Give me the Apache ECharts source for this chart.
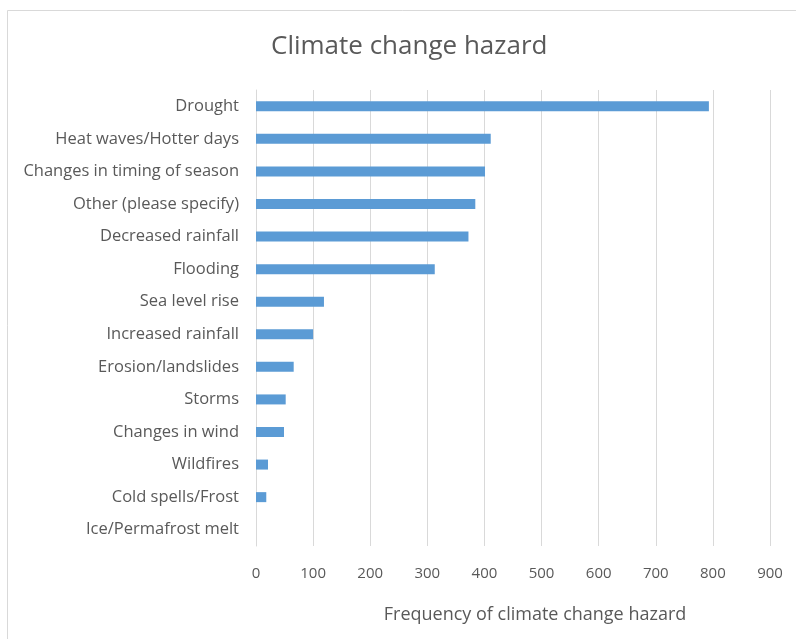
<!DOCTYPE html>
<html>
<head>
<meta charset="utf-8">
<script src="https://cdn.jsdelivr.net/npm/echarts@6/dist/echarts.min.js"></script>
<style>
html,body{margin:0;padding:0;background:#fff;}
#chart{width:796px;height:639px;}
</style>
</head>
<body>
<div id="chart"></div>
<script>
const categories = [
  "Drought",
  "Heat waves/Hotter days",
  "Changes in timing of season",
  "Other (please specify)",
  "Decreased rainfall",
  "Flooding",
  "Sea level rise",
  "Increased rainfall",
  "Erosion/landslides",
  "Storms",
  "Changes in wind",
  "Wildfires",
  "Cold spells/Frost",
  "Ice/Permafrost melt"
];
const values = [793, 411, 401, 384, 372, 313, 119, 100, 66, 52, 49, 21, 18, 0];
const xTicks = { min: 0, max: 900, interval: 100 };

const chart = echarts.init(document.getElementById('chart'));
const font = "'Open Sans', 'Liberation Sans', sans-serif";
chart.setOption({
  animation: false,
  backgroundColor: '#ffffff',
  title: {
    text: 'Climate change hazard',
    left: 266,
    top: 29,
    textStyle: { color: '#595959', fontSize: 26, fontWeight: 'normal', fontFamily: font }
  },
  graphic: [{
    type: 'rect',
    shape: { x: 7.5, y: 10.5, width: 820, height: 660 },
    style: { fill: 'none', stroke: '#d9d9d9', lineWidth: 1 },
    silent: true
  }],
  grid: { left: 256, right: 26, top: 90, bottom: 93, containLabel: false },
  xAxis: {
    type: 'value',
    min: xTicks.min, max: xTicks.max, interval: xTicks.interval,
    axisLine: { show: false },
    axisTick: { show: false },
    splitLine: { show: true, lineStyle: { color: '#d9d9d9', width: 1 } },
    axisLabel: { color: '#595959', fontSize: 15, fontFamily: font, margin: 20 },
    name: 'Frequency of climate change hazard',
    nameLocation: 'middle',
    nameGap: 60,
    nameTextStyle: { color: '#595959', fontSize: 18, fontFamily: font, padding: [0, 0, 0, 44] }
  },
  yAxis: {
    type: 'category',
    inverse: true,
    data: categories,
    axisLine: { show: true, lineStyle: { color: '#d9d9d9' } },
    axisTick: { show: false },
    axisLabel: { color: '#595959', fontSize: 16.5, fontFamily: font, margin: 17 }
  },
  series: [{
    type: 'bar',
    data: values,
    barWidth: 10,
    itemStyle: { color: '#5b9bd5' }
  }]
});
</script>
</body>
</html>
